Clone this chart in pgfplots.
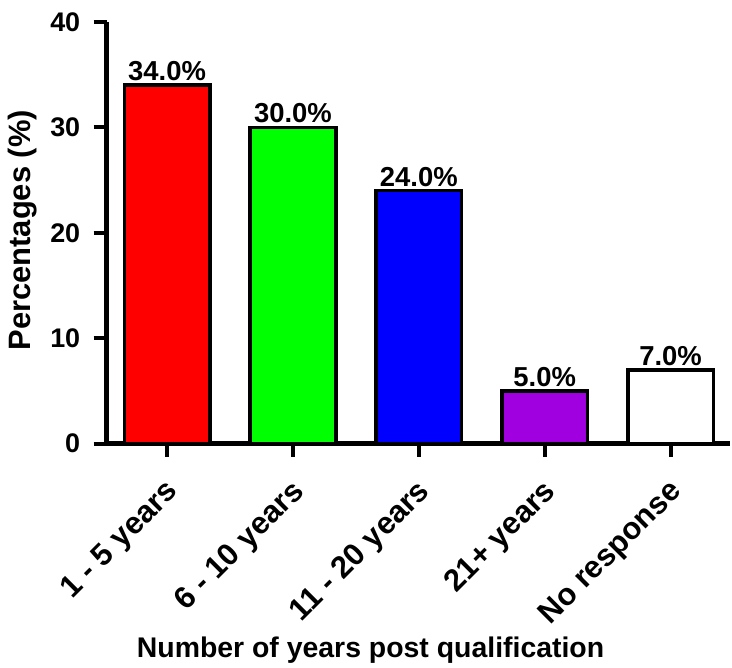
\documentclass[border=0pt]{standalone}
\usepackage{pgfplots}
\pgfplotsset{compat=1.18}
\usepackage{fontspec}
\setmainfont{Liberation Sans}
\definecolor{cpurple}{HTML}{A000E0}
\begin{document}
\begin{tikzpicture}
\begin{axis}[
 scale only axis, width=625pt, height=423pt,
 xmin=-0.48, xmax=4.47, ymin=0, ymax=40,
 axis x line=bottom, axis y line=left,
 axis line style={-, line width=4.5pt},
 ytick={0,10,20,30,40},
 xtick={0,1,2,3,4},
 xticklabels={1 - 5 years, 6 - 10 years, 11 - 20 years, 21+ years, No response},
 tick align=outside, major tick length=13pt,
 tick style={line width=4pt, black},
 /pgf/number format/assume math mode=true,
 yticklabel style={font=\fontsize{27}{30}\selectfont\bfseries, xshift=-10pt},
 xticklabel style={font=\fontsize{31}{34}\selectfont\bfseries, xshift=-3pt, yshift=-18pt, rotate=45, anchor=north east, inner sep=2pt},
 xlabel style={font=\fontsize{28.5}{32}\selectfont\bfseries, at={(axis description cs:0.4235,-0.508)}, anchor=base},
 ylabel style={font=\fontsize{31}{34}\selectfont\bfseries, at={(axis description cs:-0.135,0.506)}, anchor=center},
 xlabel={Number of years post qualification},
 ylabel={Percentages (\%)},
 ybar, bar width=0.68, bar shift=0pt,
 nodes near coords={\pgfmathprintnumber[fixed,fixed zerofill,precision=1]{\pgfplotspointmeta}\%},
 nodes near coords style={font=\fontsize{27.5}{30}\selectfont\bfseries, inner sep=0pt, anchor=south, yshift=2.5pt, black},
 clip=false,
]
\addplot[fill=red, draw=black, line width=3.5pt] coordinates {(0,34)};
\addplot[fill=green, draw=black, line width=3.5pt] coordinates {(1,30)};
\addplot[fill=blue, draw=black, line width=3.5pt] coordinates {(2,24)};
\addplot[fill=cpurple, draw=black, line width=3.5pt] coordinates {(3,5)};
\addplot[fill=white, draw=black, line width=3.5pt] coordinates {(4,7)};
\path (axis description cs:-0.1712,-0.5296) (axis description cs:1,1.052);
\end{axis}
\end{tikzpicture}
\end{document}
